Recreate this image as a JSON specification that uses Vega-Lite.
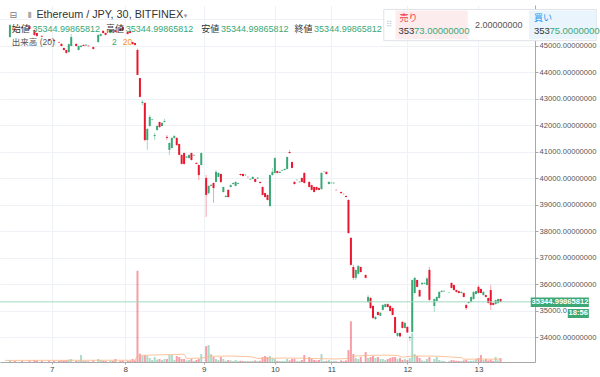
{
"$schema": "https://vega.github.io/schema/vega-lite/v6.json",
"width": 535, "height": 357,
"autosize": "none",
"padding": {"left": 0, "top": 5, "right": 65, "bottom": 15},
"background": "white",
"config": {"view": {"stroke": null}, "font": "Liberation Sans", "text": {"font": "Liberation Sans, Noto Sans CJK JP"},
  "axis": {"labelOverlap": false, "labelBound": false, "labelFlush": false}},
"datasets": {
"candles": [
{"n":2,"o":45340,"h":45830,"l":45300,"c":45790,"v":1},
{"n":4,"o":45640,"h":45680,"l":45570,"c":45600,"v":0.5},
{"n":7,"o":45720,"h":45750,"l":45680,"c":45700,"v":0.5},
{"n":10,"o":45750,"h":45790,"l":45600,"c":45640,"v":0.8},
{"n":12,"o":45600,"h":45620,"l":45380,"c":45420,"v":1},
{"n":13,"o":45490,"h":45500,"l":45340,"c":45380,"v":0.6},
{"n":15,"o":45380,"h":45400,"l":45340,"c":45350,"v":0.5},
{"n":18,"o":45260,"h":45270,"l":45190,"c":45200,"v":0.7},
{"n":20,"o":45230,"h":45250,"l":45170,"c":45190,"v":0.5},
{"n":22,"o":45150,"h":45160,"l":45120,"c":45130,"v":0.5},
{"n":23,"o":45080,"h":45100,"l":44980,"c":45000,"v":0.8},
{"n":24,"o":44920,"h":44940,"l":44830,"c":44850,"v":0.6},
{"n":25,"o":44850,"h":44860,"l":44700,"c":44740,"v":0.9},
{"n":26,"o":44770,"h":45090,"l":44740,"c":45070,"v":1.2},
{"n":27,"o":45000,"h":45450,"l":44990,"c":45340,"v":1.5},
{"n":29,"o":45080,"h":45100,"l":44980,"c":45000,"v":0.6},
{"n":30,"o":44850,"h":45020,"l":44830,"c":45000,"v":0.8},
{"n":31,"o":44960,"h":45030,"l":44950,"c":45010,"v":3.5},
{"n":32,"o":45040,"h":45060,"l":44990,"c":45000,"v":0.5},
{"n":33,"o":45020,"h":45070,"l":45000,"c":45050,"v":0.6},
{"n":34,"o":45010,"h":45020,"l":44980,"c":44990,"v":0.4},
{"n":36,"o":44960,"h":44980,"l":44870,"c":44890,"v":0.8},
{"n":38,"o":45150,"h":45430,"l":45120,"c":45420,"v":1.5},
{"n":39,"o":45380,"h":45470,"l":45360,"c":45450,"v":1},
{"n":40,"o":45570,"h":45600,"l":45470,"c":45490,"v":0.6},
{"n":41,"o":45490,"h":45510,"l":45400,"c":45420,"v":0.5},
{"n":43,"o":45490,"h":45620,"l":45480,"c":45600,"v":0.7},
{"n":44,"o":45580,"h":45590,"l":45550,"c":45560,"v":0.5},
{"n":45,"o":45600,"h":45620,"l":45510,"c":45530,"v":1.5},
{"n":47,"o":45640,"h":45650,"l":45560,"c":45570,"v":0.6},
{"n":48,"o":45720,"h":45740,"l":45590,"c":45600,"v":0.8},
{"n":50,"o":45530,"h":45540,"l":45430,"c":45450,"v":0.6},
{"n":51,"o":45560,"h":45570,"l":45480,"c":45490,"v":0.5},
{"n":52,"o":45150,"h":45160,"l":45060,"c":45070,"v":1.5},
{"n":53,"o":45110,"h":45130,"l":45020,"c":45040,"v":0.8},
{"n":54,"o":44850,"h":44900,"l":43900,"c":43910,"v":46},
{"n":55,"o":43790,"h":43800,"l":43050,"c":43080,"v":4.2},
{"n":56,"o":42850,"h":42960,"l":42770,"c":42890,"v":3},
{"n":57,"o":42850,"h":42870,"l":41400,"c":41450,"v":3.5},
{"n":58,"o":41450,"h":41900,"l":41080,"c":41870,"v":3},
{"n":59,"o":41980,"h":42400,"l":41950,"c":42320,"v":2},
{"n":60,"o":42210,"h":42250,"l":42190,"c":42230,"v":1},
{"n":61,"o":41600,"h":41720,"l":41450,"c":41640,"v":2.5},
{"n":62,"o":41830,"h":42020,"l":41800,"c":41980,"v":1.2},
{"n":63,"o":42130,"h":42150,"l":41920,"c":41940,"v":1.5},
{"n":64,"o":41980,"h":42110,"l":41970,"c":42100,"v":1},
{"n":65,"o":42130,"h":42250,"l":42120,"c":42170,"v":1.5},
{"n":66,"o":41570,"h":41640,"l":41450,"c":41530,"v":1.5},
{"n":67,"o":41080,"h":41360,"l":40890,"c":41340,"v":3.5},
{"n":68,"o":41150,"h":41560,"l":41130,"c":41530,"v":3.5},
{"n":69,"o":41530,"h":41640,"l":41500,"c":41600,"v":1},
{"n":70,"o":41530,"h":41560,"l":41240,"c":41260,"v":3},
{"n":71,"o":41300,"h":41320,"l":40870,"c":40890,"v":2.5},
{"n":72,"o":40890,"h":40900,"l":40530,"c":40550,"v":1.5},
{"n":73,"o":40960,"h":40980,"l":40520,"c":40550,"v":1.5},
{"n":74,"o":40790,"h":40850,"l":40770,"c":40830,"v":0.8},
{"n":75,"o":40770,"h":40910,"l":40750,"c":40890,"v":1},
{"n":76,"o":40960,"h":40980,"l":40680,"c":40700,"v":1.5},
{"n":77,"o":40870,"h":40910,"l":40850,"c":40890,"v":0.5},
{"n":78,"o":40590,"h":40600,"l":40540,"c":40550,"v":1},
{"n":79,"o":40510,"h":40530,"l":39940,"c":40130,"v":1.5},
{"n":80,"o":40510,"h":40980,"l":40490,"c":40960,"v":4},
{"n":82,"o":40020,"h":40130,"l":38550,"c":39380,"v":8},
{"n":83,"o":39450,"h":39740,"l":39400,"c":39720,"v":8.5},
{"n":84,"o":39720,"h":39780,"l":39700,"c":39760,"v":4},
{"n":85,"o":39830,"h":39850,"l":39080,"c":39640,"v":2.5},
{"n":86,"o":39870,"h":40320,"l":39850,"c":40250,"v":1.5},
{"n":87,"o":40060,"h":40230,"l":40040,"c":40210,"v":1},
{"n":88,"o":40170,"h":40190,"l":39830,"c":39870,"v":2.5},
{"n":89,"o":39490,"h":39700,"l":39470,"c":39680,"v":1.5},
{"n":90,"o":39300,"h":39380,"l":39290,"c":39340,"v":0.6},
{"n":91,"o":39570,"h":39590,"l":39280,"c":39300,"v":1},
{"n":92,"o":39680,"h":39770,"l":39660,"c":39750,"v":0.8},
{"n":93,"o":39790,"h":39850,"l":39770,"c":39830,"v":0.5},
{"n":94,"o":39720,"h":39890,"l":39700,"c":39870,"v":1},
{"n":95,"o":39800,"h":39850,"l":39790,"c":39830,"v":0.5},
{"n":96,"o":40170,"h":40190,"l":40110,"c":40130,"v":0.6},
{"n":97,"o":40170,"h":40190,"l":40080,"c":40090,"v":0.5},
{"n":98,"o":40120,"h":40160,"l":40110,"c":40140,"v":0.5},
{"n":99,"o":40060,"h":40080,"l":40040,"c":40050,"v":0.4},
{"n":100,"o":39960,"h":40000,"l":39950,"c":39990,"v":0.5},
{"n":101,"o":39980,"h":40080,"l":39970,"c":40060,"v":0.6},
{"n":102,"o":39980,"h":40000,"l":39860,"c":39870,"v":0.8},
{"n":103,"o":40000,"h":40050,"l":39990,"c":40030,"v":0.5},
{"n":104,"o":39870,"h":39880,"l":39810,"c":39830,"v":0.6},
{"n":105,"o":39680,"h":39700,"l":39360,"c":39380,"v":2.5},
{"n":106,"o":39450,"h":39470,"l":39280,"c":39300,"v":3},
{"n":107,"o":39380,"h":39390,"l":39170,"c":39190,"v":2.5},
{"n":108,"o":38960,"h":40150,"l":38940,"c":40130,"v":3},
{"n":109,"o":40130,"h":40400,"l":40110,"c":40250,"v":2},
{"n":110,"o":40210,"h":40800,"l":40190,"c":40770,"v":1.5},
{"n":111,"o":40280,"h":40300,"l":40190,"c":40210,"v":0.6},
{"n":112,"o":40210,"h":40270,"l":40200,"c":40250,"v":0.5},
{"n":113,"o":40300,"h":40340,"l":40290,"c":40320,"v":0.5},
{"n":114,"o":40320,"h":40380,"l":40310,"c":40360,"v":0.5},
{"n":115,"o":40360,"h":40830,"l":40340,"c":40810,"v":1.5},
{"n":116,"o":41000,"h":41080,"l":40940,"c":40960,"v":0.8},
{"n":117,"o":40620,"h":40640,"l":40380,"c":40400,"v":1.5},
{"n":118,"o":39870,"h":39900,"l":39770,"c":39790,"v":1.5},
{"n":119,"o":39940,"h":39970,"l":39920,"c":39950,"v":0.4},
{"n":120,"o":39860,"h":39900,"l":39850,"c":39880,"v":0.5},
{"n":121,"o":40020,"h":40040,"l":39850,"c":39870,"v":1},
{"n":122,"o":40210,"h":40230,"l":39810,"c":39830,"v":3.5},
{"n":124,"o":39870,"h":39890,"l":39660,"c":39680,"v":2.5},
{"n":125,"o":39750,"h":39770,"l":39550,"c":39570,"v":1.5},
{"n":126,"o":39680,"h":39700,"l":39470,"c":39490,"v":1},
{"n":127,"o":39680,"h":39700,"l":39550,"c":39570,"v":0.8},
{"n":128,"o":39640,"h":39660,"l":39550,"c":39570,"v":1},
{"n":129,"o":39600,"h":40240,"l":39580,"c":40210,"v":4},
{"n":130,"o":40250,"h":40280,"l":40240,"c":40260,"v":0.5},
{"n":131,"o":40250,"h":40270,"l":40150,"c":40170,"v":0.6},
{"n":132,"o":39790,"h":39890,"l":39780,"c":39870,"v":1},
{"n":133,"o":39820,"h":39860,"l":39810,"c":39840,"v":0.5},
{"n":134,"o":39820,"h":39860,"l":39800,"c":39840,"v":0.5},
{"n":135,"o":39570,"h":39590,"l":39540,"c":39560,"v":0.4},
{"n":137,"o":39490,"h":39510,"l":39430,"c":39450,"v":0.8},
{"n":138,"o":39420,"h":39430,"l":39400,"c":39410,"v":0.4},
{"n":139,"o":39340,"h":39360,"l":39290,"c":39300,"v":0.8},
{"n":140,"o":39190,"h":39210,"l":37920,"c":37940,"v":6},
{"n":141,"o":37760,"h":37780,"l":36720,"c":36740,"v":20.5},
{"n":142,"o":36660,"h":36740,"l":36170,"c":36250,"v":4},
{"n":143,"o":36250,"h":36560,"l":36170,"c":36550,"v":2},
{"n":144,"o":36400,"h":36740,"l":36380,"c":36700,"v":1.5},
{"n":145,"o":36660,"h":36680,"l":36450,"c":36470,"v":2.5},
{"n":147,"o":36360,"h":36380,"l":36230,"c":36250,"v":5},
{"n":148,"o":35340,"h":35600,"l":35300,"c":35530,"v":2},
{"n":149,"o":35490,"h":35530,"l":35080,"c":35110,"v":2.5},
{"n":150,"o":35190,"h":35210,"l":34700,"c":34740,"v":3},
{"n":151,"o":34700,"h":34800,"l":34660,"c":34780,"v":2},
{"n":152,"o":34960,"h":34980,"l":34830,"c":34850,"v":2.5},
{"n":153,"o":34820,"h":34960,"l":34800,"c":34930,"v":1.5},
{"n":154,"o":35040,"h":35250,"l":35020,"c":35230,"v":1.5},
{"n":155,"o":35150,"h":35280,"l":35130,"c":35260,"v":1},
{"n":156,"o":35260,"h":35290,"l":35130,"c":35150,"v":1.5},
{"n":157,"o":35190,"h":35210,"l":34980,"c":35000,"v":2},
{"n":158,"o":35110,"h":35130,"l":34830,"c":34850,"v":2.5},
{"n":159,"o":34770,"h":34790,"l":34150,"c":34170,"v":2.5},
{"n":160,"o":34060,"h":34190,"l":34020,"c":34170,"v":1.5},
{"n":161,"o":34170,"h":34190,"l":34020,"c":34040,"v":2},
{"n":162,"o":34590,"h":34610,"l":34340,"c":34360,"v":1},
{"n":163,"o":34360,"h":34590,"l":34340,"c":34550,"v":1.5},
{"n":164,"o":34400,"h":34420,"l":34170,"c":34190,"v":1},
{"n":165,"o":33980,"h":34050,"l":33870,"c":34020,"v":2},
{"n":166,"o":34210,"h":36190,"l":34190,"c":36170,"v":14.5},
{"n":167,"o":35680,"h":36290,"l":35650,"c":36250,"v":4},
{"n":168,"o":36170,"h":36190,"l":35890,"c":35910,"v":3},
{"n":169,"o":35790,"h":35810,"l":35530,"c":35550,"v":2},
{"n":170,"o":36010,"h":36080,"l":36000,"c":36060,"v":0.8},
{"n":171,"o":36030,"h":36080,"l":36020,"c":36060,"v":0.6},
{"n":172,"o":35980,"h":36260,"l":35960,"c":36230,"v":1.5},
{"n":173,"o":36550,"h":36660,"l":35380,"c":35420,"v":2.5},
{"n":175,"o":35190,"h":35470,"l":34960,"c":35450,"v":1.5},
{"n":176,"o":35380,"h":35550,"l":35360,"c":35530,"v":2.5},
{"n":177,"o":35490,"h":35740,"l":35470,"c":35720,"v":1},
{"n":178,"o":35720,"h":35780,"l":35700,"c":35760,"v":0.6},
{"n":179,"o":35740,"h":35780,"l":35730,"c":35760,"v":0.5},
{"n":181,"o":35680,"h":35700,"l":35670,"c":35690,"v":0.4},
{"n":182,"o":36060,"h":36080,"l":35850,"c":35870,"v":1},
{"n":183,"o":35980,"h":36000,"l":35770,"c":35790,"v":0.8},
{"n":184,"o":35790,"h":35810,"l":35700,"c":35720,"v":0.6},
{"n":185,"o":35750,"h":35770,"l":35660,"c":35680,"v":0.5},
{"n":186,"o":35680,"h":35740,"l":35660,"c":35720,"v":0.5},
{"n":187,"o":35680,"h":35700,"l":35510,"c":35530,"v":0.8},
{"n":188,"o":35230,"h":35250,"l":35040,"c":35110,"v":1},
{"n":189,"o":35300,"h":35360,"l":35280,"c":35340,"v":0.5},
{"n":190,"o":35340,"h":35550,"l":35320,"c":35530,"v":0.6},
{"n":191,"o":35450,"h":35740,"l":35430,"c":35720,"v":0.8},
{"n":192,"o":35640,"h":35770,"l":35620,"c":35750,"v":1.5},
{"n":193,"o":35910,"h":35980,"l":35660,"c":35680,"v":2},
{"n":194,"o":35830,"h":35850,"l":35660,"c":35680,"v":3.5},
{"n":195,"o":35600,"h":35740,"l":35580,"c":35720,"v":1},
{"n":196,"o":35600,"h":35620,"l":35510,"c":35530,"v":1.5},
{"n":197,"o":35490,"h":35510,"l":35280,"c":35300,"v":0.8},
{"n":198,"o":35790,"h":35980,"l":35040,"c":35230,"v":1.2},
{"n":199,"o":35300,"h":35320,"l":35210,"c":35230,"v":0.5},
{"n":200,"o":35260,"h":35430,"l":35240,"c":35410,"v":2.5},
{"n":201,"o":35300,"h":35470,"l":35280,"c":35450,"v":0.8},
{"n":202,"o":35450,"h":35470,"l":35330,"c":35345,"v":2}
],
"ma": [
{"n":0,"ma":0.8},{"n":53,"ma":0.9},{"n":54,"ma":3.2},{"n":60,"ma":3.5},{"n":66,"ma":3.7},{"n":73,"ma":3.9},{"n":74,"ma":1.8},{"n":80,"ma":2.0},{"n":82,"ma":2.4},{"n":84,"ma":2.9},{"n":92,"ma":3.0},{"n":100,"ma":2.7},{"n":103,"ma":1.8},{"n":108,"ma":1.9},{"n":114,"ma":2.0},{"n":122,"ma":1.9},{"n":128,"ma":1.7},{"n":135,"ma":1.5},{"n":140,"ma":1.8},{"n":141,"ma":2.8},{"n":147,"ma":3.3},{"n":155,"ma":3.5},{"n":160,"ma":3.3},{"n":162,"ma":2.4},{"n":166,"ma":3.0},{"n":175,"ma":3.0},{"n":186,"ma":2.2},{"n":187,"ma":1.4},{"n":195,"ma":1.5},{"n":202,"ma":1.4}
]
},
"data": {"name": "candles"},
"layer": [
{"layer": [
 {"mark": {"type": "bar", "width": 2, "orient": "vertical"},
  "encoding": {
   "x": {"field": "n", "type": "quantitative", "scale": {"domain": [0, 214], "nice": false, "zero": false}},
   "y": {"field": "v", "type": "quantitative", "stack": null, "scale": {"domain": [0, 180], "nice": false}, "axis": null},
   "color": {"condition": {"test": "datum.c >= datum.o", "value": "#3aa776"}, "value": "#e8172f"},
   "opacity": {"value": 0.42}}},
 {"data": {"name": "ma"},
  "mark": {"type": "line", "color": "#f9b98c", "strokeWidth": 1, "opacity": 0.85},
  "encoding": {
   "x": {"field": "n", "type": "quantitative"},
   "y": {"field": "ma", "type": "quantitative", "scale": {"domain": [0, 180], "nice": false}, "axis": null}}}
]},
{"layer": [
 {"mark": {"type": "rule", "strokeWidth": 1},
  "encoding": {
   "x": {"field": "n", "type": "quantitative", "scale": {"domain": [0, 214], "nice": false, "zero": false},
     "axis": {"title": null, "values": [19, 49, 81, 110, 133, 164, 193],
       "labelExpr": "datum.value == 19 ? '7' : datum.value == 49 ? '8' : datum.value == 81 ? '9' : datum.value == 110 ? '10' : datum.value == 133 ? '11' : datum.value == 164 ? '12' : '13'",
       "grid": true, "gridColor": "#eef1f5", "domainColor": "#a8a8a8", "tickColor": "#a8a8a8", "tickSize": 2,
       "labelFontSize": 8, "labelColor": "#444", "labelPadding": 1, "labelFont": "Liberation Sans", "zindex": 0}},
   "y": {"field": "l", "type": "quantitative", "scale": {"domain": [33075, 46547], "nice": false, "zero": false},
     "axis": {"title": null, "orient": "right", "tickCount": 13, "tickMinStep": 1000,
       "labelExpr": "datum.value > 45500 ? '' : datum.value == 35000 ? '35000.0' : format(datum.value, '.8f')",
       "grid": true, "gridColor": "#eef1f5", "domainColor": "#a8a8a8", "tickColor": "#a8a8a8", "tickSize": 3,
       "labelFontSize": 7.6, "labelColor": "#555", "labelPadding": 1, "labelFont": "Liberation Sans", "zindex": 0}},
   "y2": {"field": "h"},
   "color": {"condition": {"test": "datum.c >= datum.o", "value": "#a9d9c3"}, "value": "#f5a6b0"}}},
 {"mark": {"type": "bar", "width": 2, "orient": "vertical"},
  "encoding": {
   "x": {"field": "n", "type": "quantitative"},
   "y": {"field": "o", "type": "quantitative"},
   "y2": {"field": "c"},
   "color": {"condition": {"test": "datum.c >= datum.o", "value": "#3aa776"}, "value": "#e8172f"}}},
 {"data": {"values": [{}]}, "mark": {"type": "rule", "color": "#a3d9bf", "strokeWidth": 1},
  "encoding": {"y": {"datum": 35345, "type": "quantitative"}}},

 {"data": {"values": [{}]}, "mark": {"type": "text", "text": "⊟", "fontSize": 9, "color": "#777", "align": "center", "baseline": "middle", "font": "DejaVu Sans"},
  "encoding": {"x": {"datum": 3.4, "type": "quantitative"}, "y": {"datum": 46170, "type": "quantitative"}}},
 {"data": {"values": [{}]}, "mark": {"type": "text", "text": "▮", "fontSize": 8, "color": "#aaa", "align": "center", "baseline": "middle", "font": "DejaVu Sans"},
  "encoding": {"x": {"datum": 10, "type": "quantitative"}, "y": {"datum": 46170, "type": "quantitative"}}},
 {"data": {"values": [{}]}, "mark": {"type": "text", "text": "Ethereum / JPY, 30, BITFINEX", "fontSize": 10.8, "color": "#333", "align": "left", "baseline": "middle"},
  "encoding": {"x": {"datum": 12.8, "type": "quantitative"}, "y": {"datum": 46170, "type": "quantitative"}}},
 {"data": {"values": [{}]}, "mark": {"type": "text", "text": "▾", "fontSize": 7, "color": "#999", "align": "center", "baseline": "middle", "font": "DejaVu Sans"},
  "encoding": {"x": {"datum": 73.6, "type": "quantitative"}, "y": {"datum": 46140, "type": "quantitative"}}},

 {"data": {"values": [{}]}, "mark": {"type": "text", "text": "始値", "fontSize": 9, "color": "#333", "align": "left", "baseline": "middle"},
  "encoding": {"x": {"datum": 2.8, "type": "quantitative"}, "y": {"datum": 45660, "type": "quantitative"}}},
 {"data": {"values": [{}]}, "mark": {"type": "text", "text": "35344.99865812", "fontSize": 9, "color": "#3aa776", "align": "left", "baseline": "middle"},
  "encoding": {"x": {"datum": 11.2, "type": "quantitative"}, "y": {"datum": 45660, "type": "quantitative"}}},
 {"data": {"values": [{}]}, "mark": {"type": "text", "text": "高値", "fontSize": 9, "color": "#333", "align": "left", "baseline": "middle"},
  "encoding": {"x": {"datum": 41.2, "type": "quantitative"}, "y": {"datum": 45660, "type": "quantitative"}}},
 {"data": {"values": [{}]}, "mark": {"type": "text", "text": "35344.99865812", "fontSize": 9, "color": "#3aa776", "align": "left", "baseline": "middle"},
  "encoding": {"x": {"datum": 49.2, "type": "quantitative"}, "y": {"datum": 45660, "type": "quantitative"}}},
 {"data": {"values": [{}]}, "mark": {"type": "text", "text": "安値", "fontSize": 9, "color": "#333", "align": "left", "baseline": "middle"},
  "encoding": {"x": {"datum": 80, "type": "quantitative"}, "y": {"datum": 45660, "type": "quantitative"}}},
 {"data": {"values": [{}]}, "mark": {"type": "text", "text": "35344.99865812", "fontSize": 9, "color": "#3aa776", "align": "left", "baseline": "middle"},
  "encoding": {"x": {"datum": 88, "type": "quantitative"}, "y": {"datum": 45660, "type": "quantitative"}}},
 {"data": {"values": [{}]}, "mark": {"type": "text", "text": "終値", "fontSize": 9, "color": "#333", "align": "left", "baseline": "middle"},
  "encoding": {"x": {"datum": 118, "type": "quantitative"}, "y": {"datum": 45660, "type": "quantitative"}}},
 {"data": {"values": [{}]}, "mark": {"type": "text", "text": "35344.99865812", "fontSize": 9, "color": "#3aa776", "align": "left", "baseline": "middle"},
  "encoding": {"x": {"datum": 126, "type": "quantitative"}, "y": {"datum": 45660, "type": "quantitative"}}},

 {"data": {"values": [{}]}, "mark": {"type": "text", "text": "出来高 (20)", "fontSize": 8.5, "color": "#555", "align": "left", "baseline": "middle"},
  "encoding": {"x": {"datum": 2.8, "type": "quantitative"}, "y": {"datum": 45150, "type": "quantitative"}}},
 {"data": {"values": [{}]}, "mark": {"type": "text", "text": "2", "fontSize": 8.5, "color": "#3aa776", "align": "left", "baseline": "middle"},
  "encoding": {"x": {"datum": 43.6, "type": "quantitative"}, "y": {"datum": 45150, "type": "quantitative"}}},
 {"data": {"values": [{}]}, "mark": {"type": "text", "text": "20", "fontSize": 8.5, "color": "#f7931e", "align": "left", "baseline": "middle"},
  "encoding": {"x": {"datum": 48, "type": "quantitative"}, "y": {"datum": 45150, "type": "quantitative"}}},

 {"data": {"values": [{}]}, "mark": {"type": "rect", "fill": "white", "stroke": "#dfe2e8", "strokeWidth": 1},
  "encoding": {"x": {"datum": 154.4, "type": "quantitative"}, "x2": {"datum": 241}, "y": {"datum": 46380, "type": "quantitative"}, "y2": {"datum": 45200}}},
 {"data": {"values": [{}]}, "mark": {"type": "rect", "fill": "#fdecee"},
  "encoding": {"x": {"datum": 159.2, "type": "quantitative"}, "x2": {"datum": 188.6}, "y": {"datum": 46340, "type": "quantitative"}, "y2": {"datum": 45250}}},
 {"data": {"values": [{}]}, "mark": {"type": "rect", "fill": "#e9f4fc"},
  "encoding": {"x": {"datum": 213.6, "type": "quantitative"}, "x2": {"datum": 241}, "y": {"datum": 46340, "type": "quantitative"}, "y2": {"datum": 45250}}},
 {"data": {"values": [{}]}, "mark": {"type": "text", "text": "⠿", "fontSize": 8, "color": "#c4c4c4", "align": "center", "baseline": "middle", "font": "DejaVu Sans"},
  "encoding": {"x": {"datum": 156.6, "type": "quantitative"}, "y": {"datum": 45792, "type": "quantitative"}}},
 {"data": {"values": [{}]}, "mark": {"type": "text", "text": "売り", "fontSize": 9, "color": "#f23645", "align": "left", "baseline": "middle"},
  "encoding": {"x": {"datum": 160.8, "type": "quantitative"}, "y": {"datum": 46038, "type": "quantitative"}}},
 {"data": {"values": [{}]}, "mark": {"type": "text", "text": "353", "fontSize": 9.5, "color": "#333", "align": "left", "baseline": "middle"},
  "encoding": {"x": {"datum": 160.4, "type": "quantitative"}, "y": {"datum": 45547, "type": "quantitative"}}},
 {"data": {"values": [{}]}, "mark": {"type": "text", "text": "73.00000000", "fontSize": 9.5, "color": "#3aa776", "align": "left", "baseline": "middle"},
  "encoding": {"x": {"datum": 166.7, "type": "quantitative"}, "y": {"datum": 45547, "type": "quantitative"}}},
 {"data": {"values": [{}]}, "mark": {"type": "text", "text": "2.00000000", "fontSize": 9, "color": "#555", "align": "left", "baseline": "middle"},
  "encoding": {"x": {"datum": 191.6, "type": "quantitative"}, "y": {"datum": 45792, "type": "quantitative"}}},
 {"data": {"values": [{}]}, "mark": {"type": "text", "text": "買い", "fontSize": 9, "color": "#2196f3", "align": "left", "baseline": "middle"},
  "encoding": {"x": {"datum": 215.6, "type": "quantitative"}, "y": {"datum": 46038, "type": "quantitative"}}},
 {"data": {"values": [{}]}, "mark": {"type": "text", "text": "353", "fontSize": 9.5, "color": "#333", "align": "left", "baseline": "middle"},
  "encoding": {"x": {"datum": 215.6, "type": "quantitative"}, "y": {"datum": 45547, "type": "quantitative"}}},
 {"data": {"values": [{}]}, "mark": {"type": "text", "text": "75.00000000", "fontSize": 9.5, "color": "#3aa776", "align": "left", "baseline": "middle"},
  "encoding": {"x": {"datum": 221.9, "type": "quantitative"}, "y": {"datum": 45547, "type": "quantitative"}}},

 {"data": {"values": [{}]}, "mark": {"type": "rect", "fill": "#3ea776"},
  "encoding": {"x": {"datum": 214.3, "type": "quantitative"}, "x2": {"datum": 238}, "y": {"datum": 35509, "type": "quantitative"}, "y2": {"datum": 35151}}},
 {"data": {"values": [{}]}, "mark": {"type": "text", "text": "35344.99865812", "fontSize": 7.6, "fontWeight": "bold", "color": "white", "align": "center", "baseline": "middle"},
  "encoding": {"x": {"datum": 226.2, "type": "quantitative"}, "y": {"datum": 35335, "type": "quantitative"}}},
 {"data": {"values": [{}]}, "mark": {"type": "rect", "fill": "#3ea776"},
  "encoding": {"x": {"datum": 229.4, "type": "quantitative"}, "x2": {"datum": 238}, "y": {"datum": 35075, "type": "quantitative"}, "y2": {"datum": 34736}}},
 {"data": {"values": [{}]}, "mark": {"type": "text", "text": "18:56", "fontSize": 7.6, "fontWeight": "bold", "color": "white", "align": "center", "baseline": "middle"},
  "encoding": {"x": {"datum": 233.7, "type": "quantitative"}, "y": {"datum": 34906, "type": "quantitative"}}}
]}
],
"resolve": {"scale": {"y": "independent"}}
}
